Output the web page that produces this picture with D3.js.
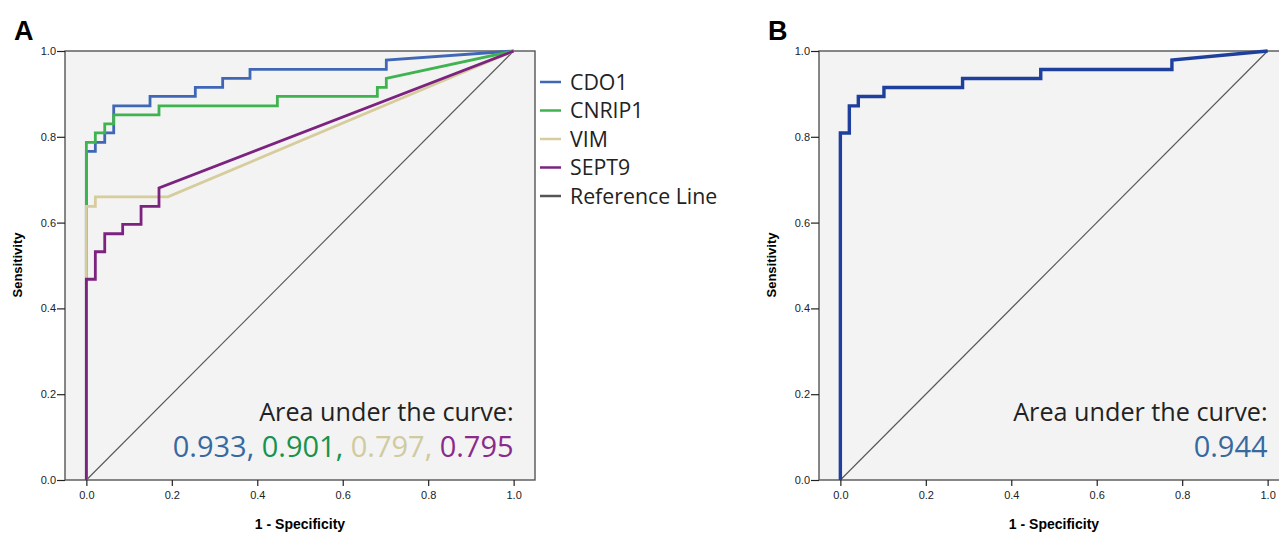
<!DOCTYPE html>
<html>
<head>
<meta charset="utf-8">
<script src="https://cdn.jsdelivr.net/npm/d3@7"></script>
<style>
  body { margin: 0; background: #fff; }
  text { font-family: "Liberation Sans", Arial, sans-serif; }
  .big { font-family: "Open Sans", sans-serif; }
</style>
</head>
<body>
<div id="container"></div>
<script>
// ROC points: [1 - specificity, sensitivity]
const cdo1 = [[0,0],[0,0.766],[0.021,0.766],[0.021,0.787],[0.043,0.787],[0.043,0.809],[0.064,0.809],[0.064,0.872],
              [0.149,0.872],[0.149,0.894],[0.255,0.894],[0.255,0.915],[0.319,0.915],[0.319,0.936],[0.383,0.936],
              [0.383,0.957],[0.702,0.957],[0.702,0.979],[1,1]];
const cnrip1 = [[0,0],[0,0.787],[0.021,0.787],[0.021,0.809],[0.043,0.809],[0.043,0.830],[0.064,0.830],[0.064,0.851],
                [0.170,0.851],[0.170,0.872],[0.447,0.872],[0.447,0.894],[0.681,0.894],[0.681,0.915],[0.702,0.915],
                [0.702,0.936],[1,1]];
const vim = [[0,0],[0,0.638],[0.021,0.638],[0.021,0.660],[0.191,0.660],[1,1]];
const sept9 = [[0,0],[0,0.468],[0.021,0.468],[0.021,0.532],[0.043,0.532],[0.043,0.574],[0.085,0.574],[0.085,0.596],
               [0.128,0.596],[0.128,0.638],[0.170,0.638],[0.170,0.681],[1,1]];
const panelB = [[0,0],[0,0.809],[0.021,0.809],[0.021,0.872],[0.042,0.872],[0.042,0.894],[0.102,0.894],[0.102,0.915],
                [0.286,0.915],[0.286,0.936],[0.469,0.936],[0.469,0.957],[0.776,0.957],[0.776,0.979],[1,1]];
const refLine = [[0,0],[1,1]];

const seriesNames = ["CDO1", "CNRIP1", "VIM", "SEPT9", "Reference Line"];
const seriesColors = ["#3f67b5", "#3fb34f", "#d6cc9c", "#7b237f", "#555555"];
const aucA = ["0.933", "0.901", "0.797", "0.795"];
const aucColors = ["#37699f", "#16934c", "#cfcaa0", "#8a2a8a"];
const aucB = ["0.944"];
const tickVals = [0, 0.2, 0.4, 0.6, 0.8, 1.0];

const w = 1279;
const h = 533;
const plotTop = 51, plotBottom = 480;

const svg = d3.select("#container")
              .append("svg")
              .attr("width", w)
              .attr("height", h);

function drawPanel(left, letter, curves, aucVals) {
    const xScale = d3.scaleLinear().domain([-0.05, 1.05]).range([left, left + 470]);
    const yScale = d3.scaleLinear().domain([0, 1]).range([plotBottom, plotTop]);
    const g = svg.append("g");

    // plot box
    g.append("rect")
     .attr("x", xScale(-0.05)).attr("y", plotTop)
     .attr("width", xScale(1.05) - xScale(-0.05)).attr("height", plotBottom - plotTop)
     .style("fill", "#f3f3f3")
     .style("stroke", "#555")
     .style("stroke-width", 1.4);

    const line = d3.line().x(d => xScale(d[0])).y(d => yScale(d[1]));

    g.append("path")
     .attr("d", line(refLine))
     .style("fill", "none").style("stroke", "#555").style("stroke-width", 1.1);

    curves.forEach(function(c) {
        g.append("path")
         .attr("d", line(c.data))
         .style("fill", "none")
         .style("stroke", c.color)
         .style("stroke-width", c.width)
         .style("stroke-linejoin", "miter");
    });

    // axes
    const xAxis = d3.axisBottom(xScale).tickValues(tickVals).tickFormat(d3.format(".1f"))
                    .tickSize(6).tickSizeOuter(0).tickPadding(5);
    const yAxis = d3.axisLeft(yScale).tickValues(tickVals).tickFormat(d3.format(".1f"))
                    .tickSize(8).tickSizeOuter(0).tickPadding(1);

    const gx = g.append("g").attr("transform", "translate(0," + plotBottom + ")").call(xAxis);
    const gy = g.append("g").attr("transform", "translate(" + xScale(-0.05) + ",0)").call(yAxis);
    [gx, gy].forEach(function(a) {
        a.select(".domain").remove();
        a.selectAll("line").style("stroke", "#222").style("stroke-width", 1.2);
        a.selectAll("text").style("font-size", "11px").style("fill", "#222")
         .style("font-family", "'Liberation Sans', Arial, sans-serif");
    });

    // titles
    g.append("text")
     .attr("x", xScale(0.5)).attr("y", 529)
     .attr("text-anchor", "middle")
     .style("font-size", "14px").style("font-weight", "bold")
     .text("1 - Specificity");

    g.append("text")
     .attr("transform", "translate(" + (left - 43) + ",265) rotate(-90)")
     .attr("text-anchor", "middle")
     .style("font-size", "13px").style("font-weight", "bold")
     .text("Sensitivity");

    g.append("text")
     .attr("x", left - 51).attr("y", 40)
     .style("font-size", "27px").style("font-weight", "bold")
     .text(letter);

    // area under the curve
    g.append("text")
     .attr("class", "big")
     .attr("x", xScale(1)).attr("y", 421)
     .attr("text-anchor", "end")
     .style("font-size", "25.2px").style("fill", "#222")
     .text("Area under the curve:");

    const auc = g.append("text")
     .attr("class", "big")
     .attr("x", xScale(1)).attr("y", 457)
     .attr("text-anchor", "end")
     .style("font-size", "29px");
    aucVals.forEach(function(v, i) {
        auc.append("tspan")
           .style("fill", aucColors[i])
           .text(v + (i < aucVals.length - 1 ? ", " : ""));
    });
}

drawPanel(65, "A", [
    {data: cdo1, color: seriesColors[0], width: 2.8},
    {data: cnrip1, color: seriesColors[1], width: 2.8},
    {data: vim, color: seriesColors[2], width: 2.8},
    {data: sept9, color: seriesColors[3], width: 2.8}
], aucA);

drawPanel(819, "B", [
    {data: panelB, color: "#1f3f9c", width: 3.4}
], aucB);

// legend for panel A
const legend = svg.append("g").attr("transform", "translate(540,82)");
seriesNames.forEach(function(name, i) {
    const row = legend.append("g").attr("transform", "translate(0," + (i * 28.5) + ")");
    row.append("line")
       .attr("x1", 0).attr("x2", 21).attr("y1", 0).attr("y2", 0)
       .style("stroke", seriesColors[i]).style("stroke-width", 2.5);
    row.append("text")
       .attr("class", "big")
       .attr("x", 30).attr("y", 7.5)
       .style("font-size", "21.3px").style("fill", "#222")
       .text(name);
});
</script>
</body>
</html>
